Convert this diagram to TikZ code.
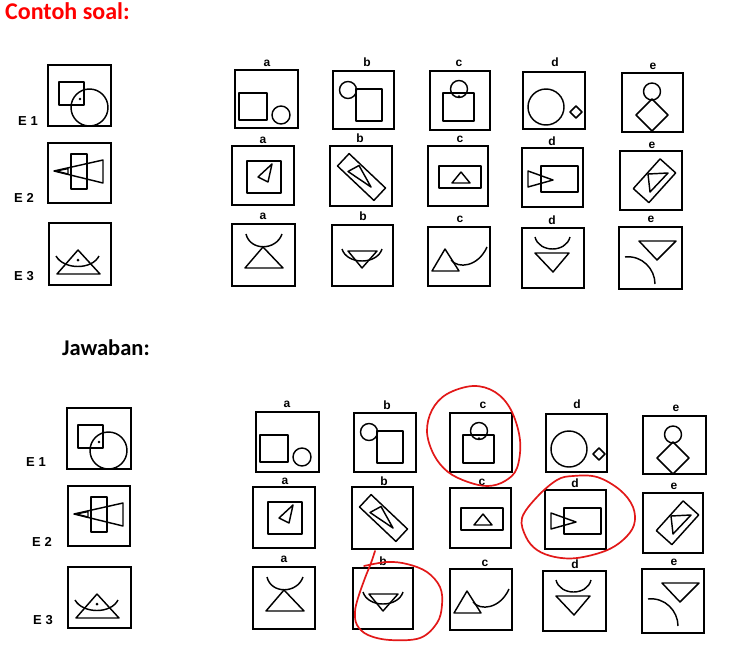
\documentclass[tikz,border=0pt]{standalone}
\usepackage{fontspec}
\setmainfont{Liberation Sans}
\newfontfamily\calfont{Carlito}
\definecolor{pen}{RGB}{226,24,24}
\tikzset{
  boxline/.style={line width=1.9pt, line join=miter},
  fig/.style={line width=1.45pt, line join=round},
  lbl/.style={font=\bfseries\fontsize{12}{12}\selectfont, inner sep=0pt},
  elbl/.style={font=\bfseries\fontsize{13}{13}\selectfont, inner sep=0pt},
  redpen/.style={draw=pen, line width=1.7pt, line cap=round, line join=round},
}
\newcommand\pbox[5]{\begin{scope}[shift={(#1,#2)}]\draw[boxline] (0,0) rectangle (#3,#4); #5\end{scope}}
% example figures
\newcommand\fEa{\draw[fig] (11,17) rectangle (36,40); \draw[fig] (41.5,42.5) circle (18.5); \fill (32,34) circle (1.4);}
\newcommand\fEb{\draw[fig] (23,11) rectangle (39,46); \draw[fig] (6,28) -- (55,17) -- (55,40) -- cycle; \draw[fig] (8,28) -- (20,25.6) -- (20,31) -- cycle;}
\newcommand\fEc{\draw[fig] (29,27) -- (51,51) -- (8,51) -- cycle; \fill (29,37) circle (1.5); \draw[fig] (7,33) .. controls (15,47) and (43,47) .. (50,33);}
% row 1
\newcommand\rowAa{\draw[fig] (4,23) rectangle (32,50); \draw[fig] (46,45) circle (9);}
\newcommand\rowAb{\draw[fig] (15,19) circle (8.5); \draw[fig] (23,18) rectangle (49,50);}
\newcommand\rowAc{\draw[fig] (29,18) circle (8.5); \draw[fig] (13,22) rectangle (44,50); \fill (29,25.5) circle (1.3);}
\newcommand\rowAd{\draw[fig] (23,35) circle (18); \draw[fig] (53,34) -- (59,40) -- (53,46) -- (47,40) -- cycle;}
\newcommand\rowAe{\draw[fig] (30,18.5) circle (8.5); \draw[fig] (30,26) -- (46,42) -- (30,58) -- (14,42) -- cycle;}
% row 2
\newcommand\rowBa{\draw[fig] (15,15) rectangle (49,47); \draw[fig] (40,18) -- (26,31) -- (36,36) -- cycle;}
\newcommand\rowBb{\draw[fig] (55.5,42) -- (43.9,54.4) -- (7.5,20) -- (19.1,7.6) -- cycle; \draw[fig] (18,25.5) -- (29,19.5) -- (41,41) -- cycle;}
\newcommand\rowBc{\draw[fig] (11,20) rectangle (53,42); \draw[fig] (33,26) -- (42,37) -- (24,37) -- cycle;}
\newcommand\rowBd{\draw[fig] (19,18) rectangle (56,44); \draw[fig] (6,23) -- (31,32) -- (6,39) -- cycle;}
\newcommand\rowBe{\draw[fig] (55.7,21.9) -- (40.1,7.9) -- (13.3,37.6) -- (28.9,51.6) -- cycle; \draw[fig] (28,23) -- (48,22) -- (30,41) -- cycle;}
% row 3
\newcommand\rowCa{\draw[fig] (14,10) .. controls (18,27) and (44,27) .. (50,10); \draw[fig] (31,23) -- (51,44) -- (13,44) -- cycle;}
\newcommand\rowCb{\draw[fig] (16,26) -- (45,26) -- (30,43) -- cycle; \draw[fig] (10,24) .. controls (15,40) and (45,40) .. (50,24);}
\newcommand\rowCc{\draw[fig] (17,22) -- (31,44) -- (4,44) -- cycle; \draw[fig] (23,33) .. controls (30,42) and (50,40) .. (59,20);}
\newcommand\rowCd{\draw[fig] (13,9) .. controls (17,25) and (44,25) .. (48,9); \draw[fig] (13,25) -- (47,25) -- (31,44) -- cycle;}
\newcommand\rowCe{\draw[fig] (20,14) -- (57,14) -- (38,33) -- cycle; \draw[fig] (6,30) .. controls (23,28) and (36,42) .. (36,57);}
\begin{document}
\begin{tikzpicture}[x=1pt,y=-1pt]
\useasboundingbox (0,0) rectangle (735,653);
\fill[white] (0,0) rectangle (735,653);
% titles
\node[anchor=base west, inner sep=0pt, text=red, font=\calfont\bfseries\fontsize{24}{24}\selectfont] (title) at (5,19.5) {Contoh soal:};
\node[anchor=base west, inner sep=0pt, font=\calfont\bfseries\fontsize{22.5}{22.5}\selectfont] (jaw) at (62,355) {Jawaban:};
% ===== top section =====
\pbox{48}{65}{63}{61}{\fEa}
\pbox{48}{143}{63}{60}{\fEb}
\pbox{49}{223}{62}{62}{\fEc}
\node[elbl] (te1) at (28,121) {E 1};
\node[elbl] (te2) at (24,198) {E 2};
\node[elbl] (te3) at (24,276) {E 3};
\pbox{235}{70}{63}{58}{\rowAa}
\pbox{333}{71}{61}{58}{\rowAb}
\pbox{430}{71}{60}{59}{\rowAc}
\pbox{523}{72}{62}{57}{\rowAd}
\pbox{622}{73}{61}{59}{\rowAe}
\node[lbl] (ta1) at (267,63) {a};
\node[lbl] (tb1) at (367,62) {b};
\node[lbl] (tc1) at (459,63) {c};
\node[lbl] (td1) at (555,62) {d};
\node[lbl] (tf1) at (653,66) {e};
\pbox{232}{146}{62}{59}{\rowBa}
\pbox{330}{146}{62}{60}{\rowBb}
\pbox{428}{146}{60}{60}{\rowBc}
\pbox{522}{148}{61}{59}{\rowBd}
\pbox{620}{151}{62}{59}{\rowBe}
\node[lbl] (ta2) at (263,140) {a};
\node[lbl] (tb2) at (360,138) {b};
\node[lbl] (tc2) at (460,139) {c};
\node[lbl] (td2) at (552,141) {d};
\node[lbl] (tf2) at (652,145) {e};
\pbox{232}{224}{63}{62}{\rowCa}
\pbox{332}{225}{61}{61}{\rowCb}
\pbox{428}{227}{62}{59}{\rowCc}
\pbox{522}{228}{62}{60}{\rowCd}
\pbox{619}{227}{63}{62}{\rowCe}
\node[lbl] (ta3) at (263,216) {a};
\node[lbl] (tb3) at (363,216) {b};
\node[lbl] (tc3) at (460,219) {c};
\node[lbl] (td3) at (552,220) {d};
\node[lbl] (tf3) at (651,219) {e};
% ===== bottom section =====
\pbox{67}{408}{64}{61}{\fEa}
\pbox{68}{486}{62}{60}{\fEb}
\pbox{68}{567}{63}{61}{\fEc}
\node[elbl] (be1) at (36,462) {E 1};
\node[elbl] (be2) at (42,542) {E 2};
\node[elbl] (be3) at (43,620) {E 3};
\pbox{256}{412}{63}{60}{\rowAa}
\pbox{354}{413}{62}{59}{\rowAb}
\pbox{450}{413}{62}{59}{\rowAc}
\pbox{546}{414}{61}{58}{\rowAd}
\pbox{643}{416}{63}{58}{\rowAe}
\node[lbl] (ba1) at (287,404) {a};
\node[lbl] (bb1) at (387,405) {b};
\node[lbl] (bc1) at (483,405) {c};
\node[lbl] (bd1) at (577,404) {d};
\node[lbl] (bf1) at (676,408) {e};
\pbox{253}{487}{62}{61}{\rowBa}
\pbox{352}{487}{61}{62}{\rowBb}
\pbox{450}{488}{61}{60}{\rowBc}
\pbox{545}{490}{61}{59}{\rowBd}
\pbox{643}{493}{60}{60}{\rowBe}
\node[lbl] (ba2) at (285,481) {a};
\node[lbl] (bb2) at (384,481) {b};
\node[lbl] (bc2) at (482,482) {c};
\node[lbl] (bd2) at (575,483) {d};
\node[lbl] (bf2) at (674,486) {e};
\pbox{253}{567}{62}{62}{\rowCa}
\pbox{353}{568}{60}{61}{\rowCb}
\pbox{450}{569}{62}{61}{\rowCc}
\pbox{543}{571}{63}{60}{\rowCd}
\pbox{642}{569}{62}{64}{\rowCe}
\node[lbl] (ba3) at (284,559) {a};
\node[lbl] (bb3) at (383,561) {b};
\node[lbl] (bc3) at (485,563) {c};
\node[lbl] (bd3) at (575,564) {d};
\node[lbl] (bf3) at (674,562) {e};
% red answer marks
\draw[redpen] plot[smooth cycle, tension=0.6] coordinates {(473,386) (495,392) (511,410) (520,440) (517,468) (505,481) (488,486) (468,482) (448,472) (434,455) (427,432) (432,410) (447,394)};
\draw[redpen] plot[smooth cycle, tension=0.6] coordinates {(573,476) (597,477) (620,490) (633,507) (634,525) (623,540) (605,551) (577,558) (555,557) (537,550) (526,537) (522,518) (537,497) (557,480)};
\draw[redpen] plot[smooth, tension=0.6] coordinates {(375,551) (371,563) (365,578) (358,598) (355,612) (357,625) (368,635) (390,640) (420,638) (437,623) (442,605) (440,587) (427,572) (407,564) (387,562) (364,566)};
\end{tikzpicture}
\end{document}
